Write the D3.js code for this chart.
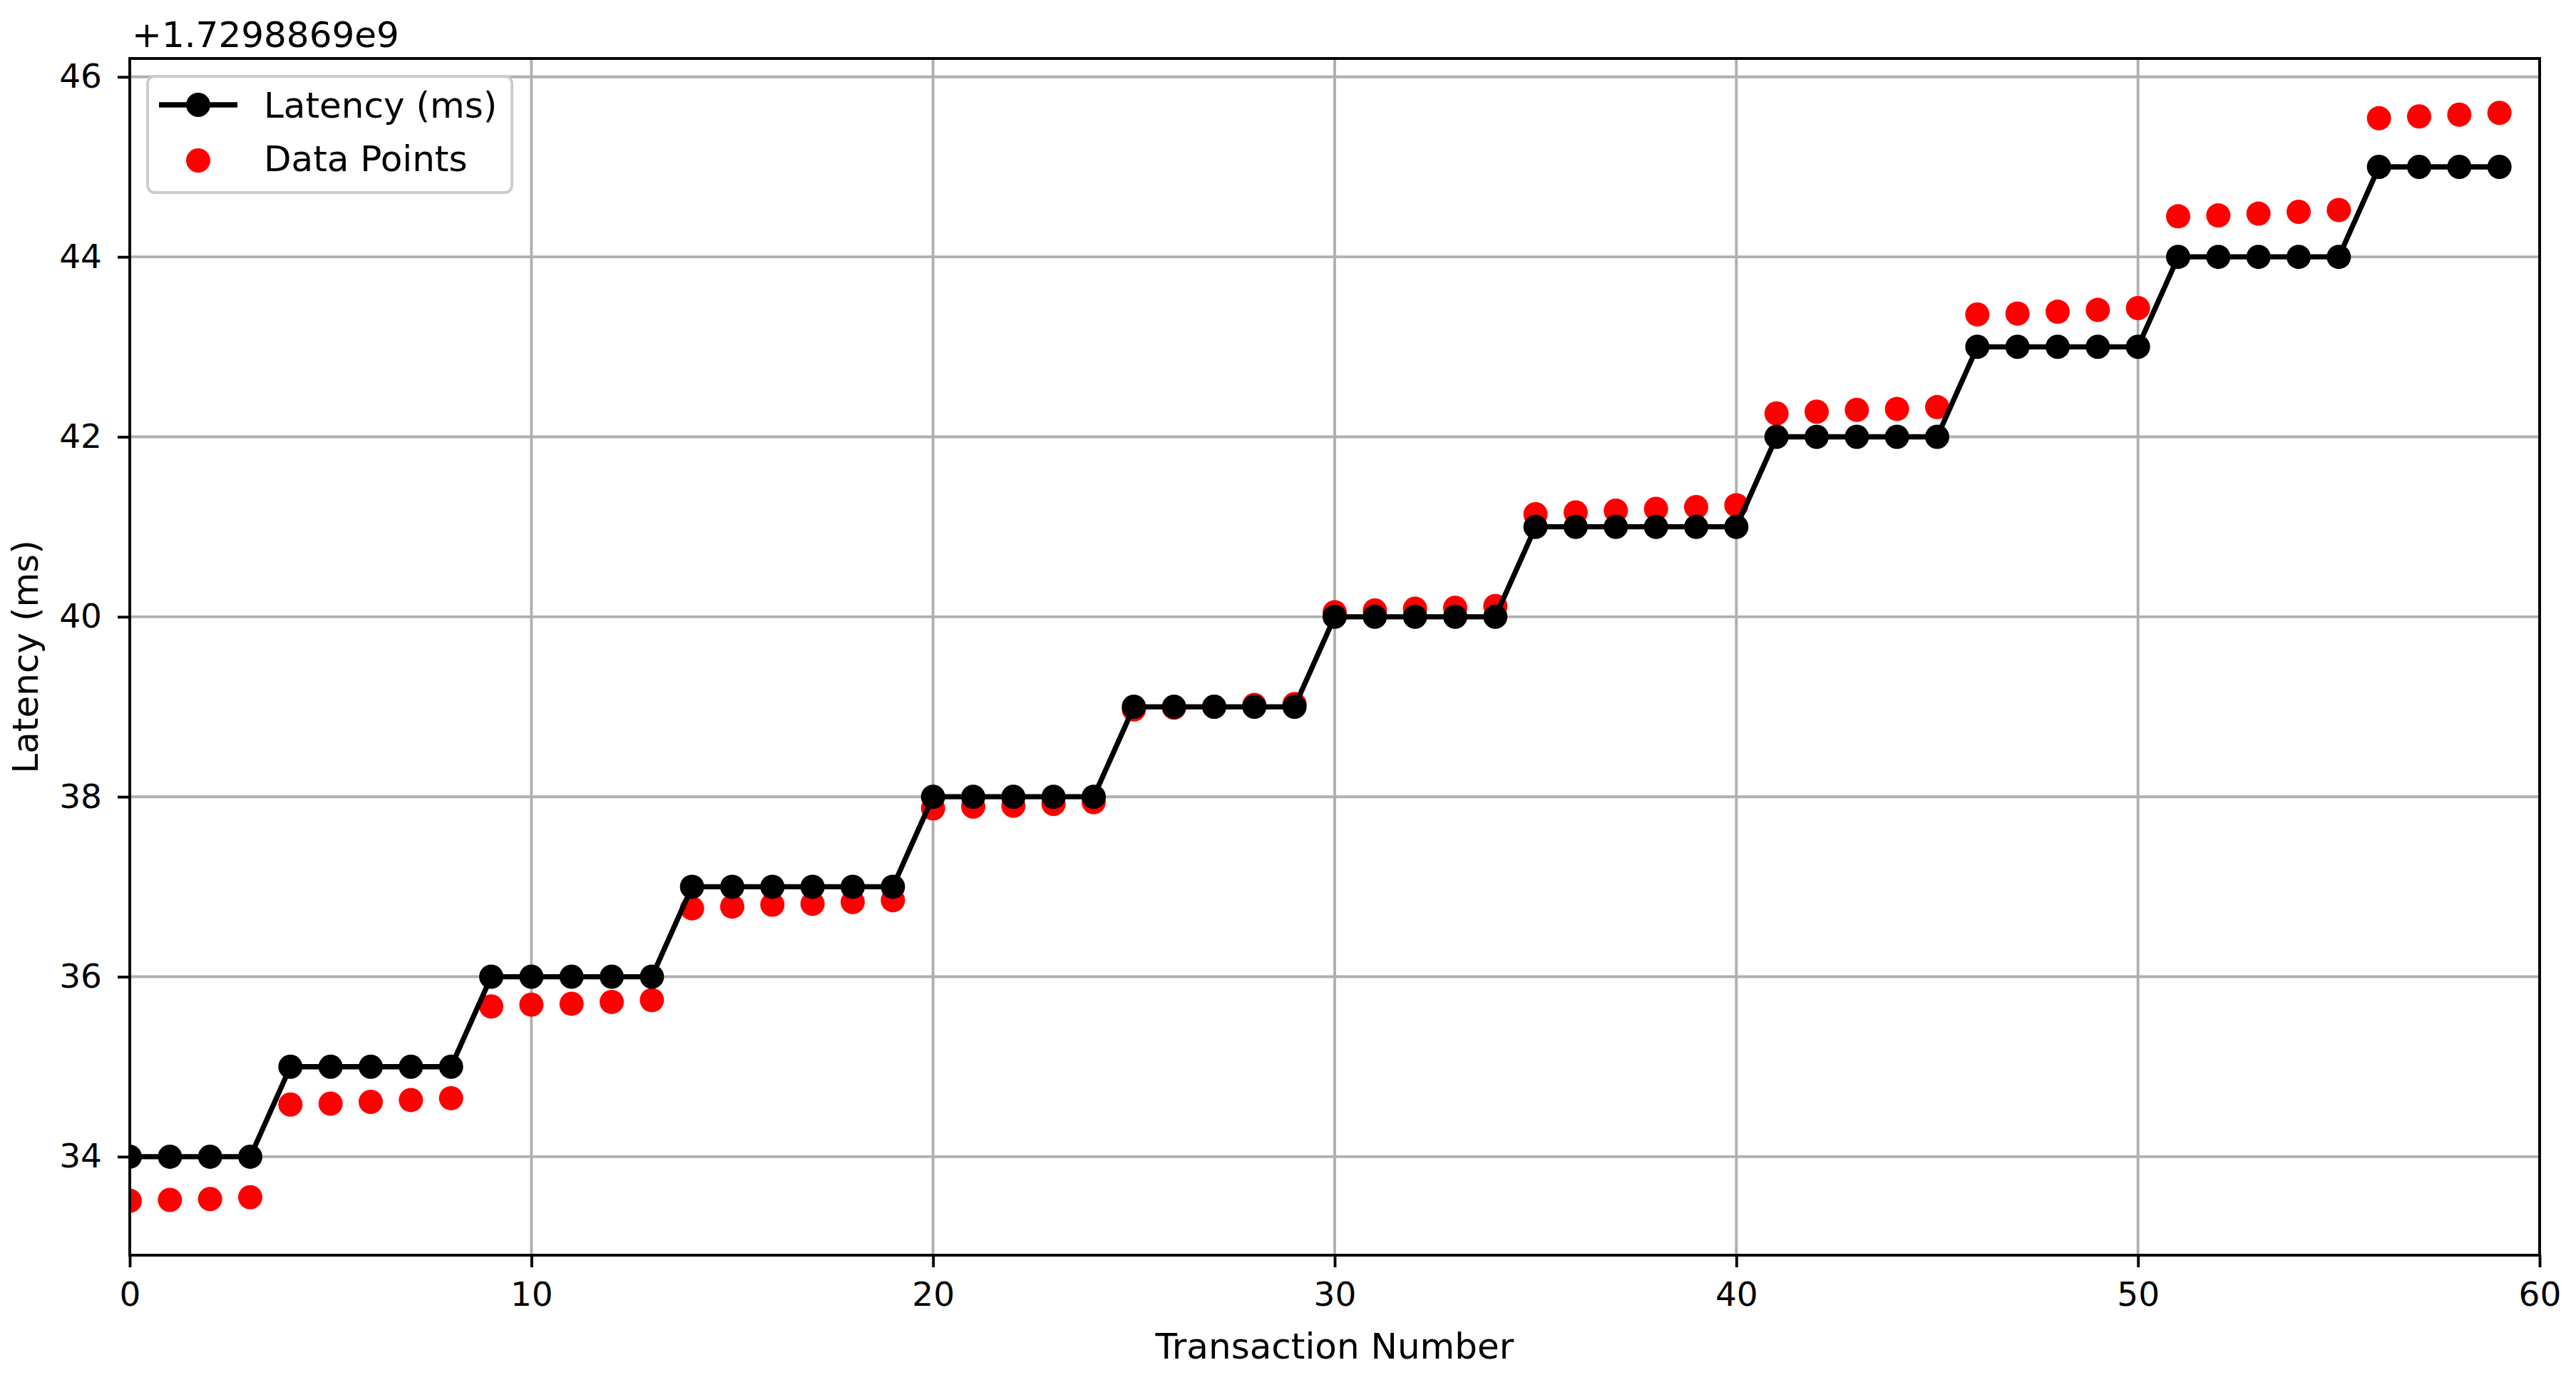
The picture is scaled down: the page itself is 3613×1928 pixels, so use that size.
<!DOCTYPE html>
<html>
<head>
<meta charset="utf-8">
<script src="https://cdn.jsdelivr.net/npm/d3@7"></script>
<style>
  html, body { margin: 0; padding: 0; background: #ffffff; }
  svg { display: block; font-family: "DejaVu Sans", sans-serif; }
</style>
</head>
<body>
<svg id="chart" width="3613" height="1928"></svg>
<script>
// ---- Data (values shown relative to the axis offset +1.7298869e9) ----
const OFFSET_LABEL = "+1.7298869e9";
const transactions = d3.range(0, 60);
const latencyMs = [
  34, 34, 34, 34,
  35, 35, 35, 35, 35,
  36, 36, 36, 36, 36,
  37, 37, 37, 37, 37, 37,
  38, 38, 38, 38, 38,
  39, 39, 39, 39, 39,
  40, 40, 40, 40, 40,
  41, 41, 41, 41, 41, 41,
  42, 42, 42, 42, 42,
  43, 43, 43, 43, 43,
  44, 44, 44, 44, 44,
  45, 45, 45, 45
];
const dataPoints = [
  33.51, 33.52, 33.53, 33.55,
  34.58, 34.59, 34.61, 34.63, 34.65,
  35.67, 35.69, 35.70, 35.72, 35.74,
  36.76, 36.78, 36.80, 36.81, 36.83, 36.85,
  37.87, 37.89, 37.90, 37.92, 37.94,
  38.97, 38.99, 39.00, 39.02, 39.03,
  40.05, 40.07, 40.09, 40.10, 40.12,
  41.14, 41.16, 41.18, 41.20, 41.22, 41.24,
  42.26, 42.28, 42.30, 42.31, 42.33,
  43.36, 43.37, 43.39, 43.41, 43.43,
  44.45, 44.46, 44.48, 44.50, 44.52,
  45.54, 45.56, 45.58, 45.60
];
const xTicks = [0, 10, 20, 30, 40, 50, 60];
const yTicks = [34, 36, 38, 40, 42, 44, 46];
const seriesNames = ["Latency (ms)", "Data Points"];
const xLabel = "Transaction Number";
const yLabel = "Latency (ms)";

// ---- Layout ----
const plot = { left: 182, top: 82, right: 3562, bottom: 1760 };
const svg = d3.select("#chart");

const yMin = d3.min([d3.min(latencyMs), d3.min(dataPoints)]);
const yMax = d3.max([d3.max(latencyMs), d3.max(dataPoints)]);
const pad = (yMax - yMin) * 0.05;

const x = d3.scaleLinear().domain([0, 60]).range([plot.left, plot.right]);
const y = d3.scaleLinear().domain([yMin - pad, yMax + pad]).range([plot.bottom, plot.top]);

const tickFont = 47, labelFont = 50;
const gridColor = "#b0b0b0";

// Grid
const grid = svg.append("g");
grid.selectAll("line.vx").data(xTicks).join("line")
  .attr("x1", d => x(d)).attr("x2", d => x(d))
  .attr("y1", plot.top).attr("y2", plot.bottom)
  .attr("stroke", gridColor).attr("stroke-width", 3.9);
grid.selectAll("line.hy").data(yTicks).join("line")
  .attr("x1", plot.left).attr("x2", plot.right)
  .attr("y1", d => y(d)).attr("y2", d => y(d))
  .attr("stroke", gridColor).attr("stroke-width", 3.9);

// Clip
svg.append("clipPath").attr("id", "clip").append("rect")
  .attr("x", plot.left).attr("y", plot.top)
  .attr("width", plot.right - plot.left).attr("height", plot.bottom - plot.top);

const dataG = svg.append("g").attr("clip-path", "url(#clip)");

// Scatter (drawn beneath line, like matplotlib zorder)
dataG.selectAll("circle.pt").data(transactions).join("circle")
  .attr("cx", i => x(i)).attr("cy", i => y(dataPoints[i]))
  .attr("r", 17).attr("fill", "#ff0000");

// Line with markers
const line = d3.line().x(i => x(i)).y(i => y(latencyMs[i]));
dataG.append("path").datum(transactions)
  .attr("d", line).attr("fill", "none")
  .attr("stroke", "#000").attr("stroke-width", 7.3).attr("stroke-linejoin", "round");
dataG.selectAll("circle.lm").data(transactions).join("circle")
  .attr("cx", i => x(i)).attr("cy", i => y(latencyMs[i]))
  .attr("r", 17).attr("fill", "#000");

// Axes
const xAxis = d3.axisBottom(x).tickValues(xTicks).tickSize(17).tickPadding(21).tickFormat(d3.format("d"));
const yAxis = d3.axisLeft(y).tickValues(yTicks).tickSize(17).tickPadding(22).tickFormat(d3.format("d"));

const gx = svg.append("g").attr("transform", `translate(0,${plot.bottom})`).call(xAxis);
const gy = svg.append("g").attr("transform", `translate(${plot.left},0)`).call(yAxis);
[gx, gy].forEach(g => {
  g.select(".domain").remove();
  g.selectAll(".tick line").attr("stroke", "#000").attr("stroke-width", 3.9);
  g.selectAll(".tick text").attr("fill", "#000")
    .style("font-size", tickFont + "px").style("font-family", "DejaVu Sans");
});

// Spines
svg.append("rect")
  .attr("x", plot.left).attr("y", plot.top)
  .attr("width", plot.right - plot.left).attr("height", plot.bottom - plot.top)
  .attr("fill", "none").attr("stroke", "#000").attr("stroke-width", 3.9);

// Axis labels
svg.append("text")
  .attr("x", (plot.left + plot.right) / 2).attr("y", 1905)
  .attr("text-anchor", "middle").style("font-size", labelFont + "px")
  .text(xLabel);
svg.append("text")
  .attr("transform", `translate(53,${(plot.top + plot.bottom) / 2}) rotate(-90)`)
  .attr("text-anchor", "middle").style("font-size", labelFont + "px")
  .text(yLabel);

// Offset text
svg.append("text")
  .attr("x", plot.left + 3).attr("y", 66)
  .style("font-size", labelFont + "px")
  .text(OFFSET_LABEL);

// Legend
const lg = svg.append("g");
lg.append("rect")
  .attr("x", 207).attr("y", 107).attr("width", 511).attr("height", 163)
  .attr("rx", 10).attr("ry", 10)
  .attr("fill", "#ffffff").attr("fill-opacity", 0.8)
  .attr("stroke", "#cccccc").attr("stroke-width", 3.9);
lg.append("line")
  .attr("x1", 223).attr("x2", 333).attr("y1", 147).attr("y2", 147)
  .attr("stroke", "#000").attr("stroke-width", 7.3);
lg.append("circle").attr("cx", 278).attr("cy", 147).attr("r", 17).attr("fill", "#000");
lg.append("circle").attr("cx", 278).attr("cy", 225).attr("r", 17).attr("fill", "#ff0000");
lg.selectAll("text.leg").data(seriesNames).join("text")
  .attr("x", 370).attr("y", (d, i) => 165 + i * 75)
  .style("font-size", labelFont + "px")
  .text(d => d);
</script>
</body>
</html>
